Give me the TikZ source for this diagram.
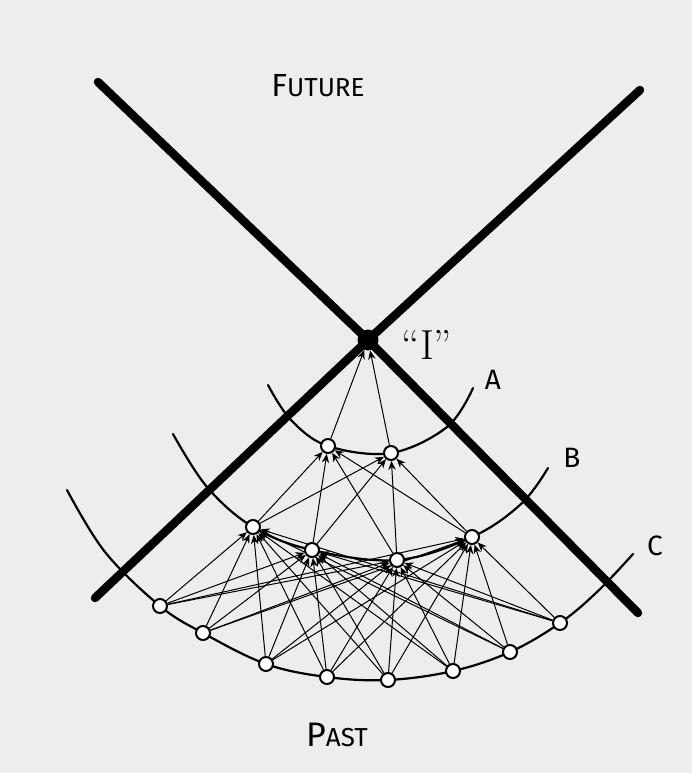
\documentclass[tikz,border=0pt]{standalone}
\usepackage{fontspec}
\newfontfamily\hand{Fira Sans}
\usetikzlibrary{arrows.meta,backgrounds}
\definecolor{paper}{RGB}{237,237,240}
\tikzset{
  thickline/.style={line width=8.5pt, line cap=round},
  arcline/.style={line width=2.2pt, line cap=round},
  conn/.style={line width=1pt, -{Stealth[length=9pt,width=7.5pt]}},
  event/.style={circle, draw, line width=2pt, fill=white, minimum size=14pt, inner sep=0pt},
  label/.style={font=\hand, inner sep=0pt},
}
\begin{document}
\begin{tikzpicture}[x=1pt,y=-1pt]
\useasboundingbox (0,0) rectangle (692,773);
% events
\node[circle, fill=black, minimum size=21pt, inner sep=0pt] (I) at (368,340) {};
\node[event] (a1) at (328,446) {};
\node[event] (a2) at (391,453) {};
\node[event] (b1) at (253,527) {};
\node[event] (b2) at (312,550) {};
\node[event] (b3) at (397,560) {};
\node[event] (b4) at (472,537) {};
\node[event] (c1) at (160,606) {};
\node[event] (c2) at (203,633) {};
\node[event] (c3) at (266,664) {};
\node[event] (c4) at (327,677) {};
\node[event] (c5) at (388,680) {};
\node[event] (c6) at (453,671) {};
\node[event] (c7) at (510,652) {};
\node[event] (c8) at (560,623) {};
% line ends
\coordinate (tl) at (98,82);
\coordinate (br) at (638,613);
\coordinate (tr) at (640,90);
\coordinate (bl) at (95,598);
\coordinate (aL) at (268,385);
\coordinate (aLm) at (291,420);
\coordinate (aRm) at (447,427);
\coordinate (aR) at (473,388);
\coordinate (bL) at (173,434);
\coordinate (bLm) at (207,487);
\coordinate (bRm) at (521,504);
\coordinate (bR) at (548,468);
\coordinate (cL) at (67,490);
\coordinate (cLm) at (105,552);
\coordinate (cRm) at (598,591);
\coordinate (cR) at (633,554);
% labels
\node[label, font=\hand\fontsize{26}{26}\selectfont] (future) at (318,86) {{\fontsize{32}{32}\selectfont F}UTURE};
\node[label, font=\hand\fontsize{26}{26}\selectfont] (past) at (337,735) {{\fontsize{34}{34}\selectfont P}AST};
\node[label, font=\fontsize{42}{42}\selectfont] (ilab) at (427,345) {``I''};
\node[label, font=\hand\fontsize{28}{28}\selectfont] (la) at (493,380) {A};
\node[label, font=\hand\fontsize{28}{28}\selectfont] (lb) at (572,458) {B};
\node[label, font=\hand\fontsize{28}{28}\selectfont] (lc) at (655,546) {C};
\begin{scope}[on background layer]
  \fill[paper] (0,0) rectangle (692,773);
  \draw[thickline] (tl) -- (I.center) -- (br);
  \draw[thickline] (tr) -- (I.center) -- (bl);
  \draw[arcline] plot[smooth, tension=0.6] coordinates {(aL) (aLm) (a1.center) (a2.center) (aRm) (aR)};
  \draw[arcline] plot[smooth, tension=0.6] coordinates {(bL) (bLm) (b1.center) (b2.center) (b3.center) (b4.center) (bRm) (bR)};
  \draw[arcline] plot[smooth, tension=0.6] coordinates {(cL) (cLm) (c1.center) (c2.center) (c3.center) (c4.center) (c5.center) (c6.center) (c7.center) (c8.center) (cRm) (cR)};
  \foreach \i in {1,...,8}{\foreach \j in {1,...,4}{\draw[conn] (c\i) -- (b\j);}}
  \foreach \i in {1,...,4}{\foreach \j in {1,2}{\draw[conn] (b\i) -- (a\j);}}
  \foreach \i in {1,2}{\draw[conn] (a\i) -- (I);}
\end{scope}
\end{tikzpicture}
\end{document}
